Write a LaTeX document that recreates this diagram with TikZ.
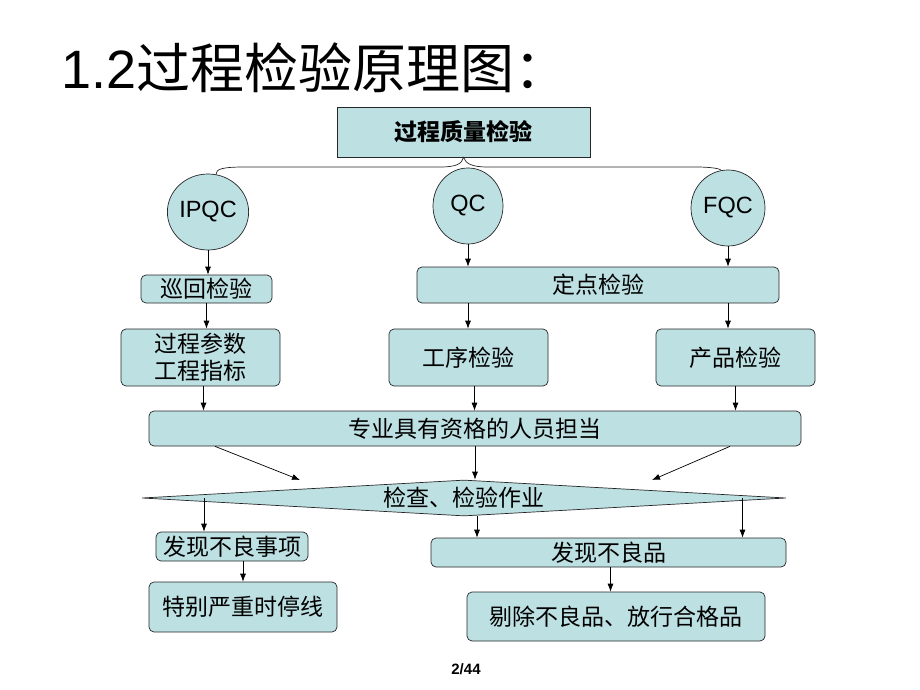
\documentclass[tikz,border=0pt]{standalone}
\usepackage{fontspec}
\setmainfont{Liberation Sans}
\newfontfamily\cjk{Noto Sans CJK SC}
\usepackage{xcolor}
\usetikzlibrary{shapes.geometric, positioning, arrows.meta}
\definecolor{boxblue}{RGB}{189,224,227}
\newcommand{\bx}{\cjk\fontsize{23}{27}\selectfont}

\begin{document}
\begin{tikzpicture}[x=1pt, y=-1pt, line width=0.7pt,
  box/.style={draw=black!85, fill=boxblue, rounded corners=5pt, inner sep=0pt, align=center, font=\bx},
  circ/.style={ellipse, draw=black!85, fill=boxblue, inner sep=0pt, font=\fontsize{23.5}{25}\selectfont},
  arr/.style={-{Latex[length=8pt,width=6pt]}}]
     \useasboundingbox (0,0) rectangle (920,690);
     \node[anchor=west] (title) at (58,68) {\fontsize{54}{60}\selectfont 1.2{\cjk 过程检验原理图：}};
     \node[box, rounded corners=0pt, minimum width=253, minimum height=50, font=\bx\bfseries] (top) at (463.5,132) {过程质量检验};
     % three kinds of inspection
     \node[circ, minimum width=74, minimum height=76] (ipqc) at (208,212) {IPQC};
     \node[circ, minimum width=70, minimum height=76] (qc) at (468,206) {QC};
     \node[circ, minimum width=74, minimum height=76] (fqc) at (728,208) {FQC};
     \draw[black!85] (ipqc.78) .. controls (216,169) and (222,167) .. (245,167) -- (440,167)
          .. controls (456,167) and (462,164) .. (top.south)
          .. controls (466,164) and (472,167) .. (488,167) -- (695,167)
          .. controls (714,167) and (720,169) .. (fqc.100);
     \node[box, minimum width=131, minimum height=28] (xun) at (206.5,289) {巡回检验};
     \node[box, minimum width=362, minimum height=36] (ding) at (598,285) {定点检验};
     \node[box, minimum width=159, minimum height=57] (par) at (200.5,357.5) {过程参数\\工程指标};
     \node[box, minimum width=159, minimum height=57] (gx) at (468.5,357.5) {工序检验};
     \node[box, minimum width=159, minimum height=57] (cp) at (735.5,357.5) {产品检验};
     \node[box, minimum width=652, minimum height=35] (staff) at (475,428.5) {专业具有资格的人员担当};
     \node[diamond, aspect=18, draw=black!85, fill=boxblue, inner sep=0pt, font=\bx,
           minimum width=644, minimum height=36] (chk) at (464,498) {检查、检验作业};
     \node[box, minimum width=152, minimum height=29] (sr) at (232,546.5) {发现不良事项};
     \node[box, minimum width=355, minimum height=29] (bl) at (608.5,552.5) {发现不良品};
     \node[box, minimum width=188, minimum height=50] (stop) at (243,607) {特别严重时停线};
     \node[box, minimum width=298, minimum height=49] (tc) at (616,616.5) {剔除不良品、放行合格品};
     \node[font=\bfseries\fontsize{15}{17}\selectfont] (pg) at (466,669) {2/44};
     % arrows
     \draw[arr] (ipqc.south) -- (ipqc.south |- xun.north);
     \draw[arr] (qc.south) -- (qc.south |- ding.north);
     \draw[arr] (fqc.south) -- (fqc.south |- ding.north);
     \draw[arr] (xun.south) -- (xun.south |- par.north);
     \draw[arr] (qc.south |- ding.south) -- (qc.south |- gx.north);
     \draw[arr] (fqc.south |- ding.south) -- (fqc.south |- cp.north);
     \draw[arr] ([xshift=3]par.south) -- ([xshift=3]par.south |- staff.north);
     \draw[arr] ([xshift=6]gx.south) -- ([xshift=6]gx.south |- staff.north);
     \draw[arr] (cp.south) -- (cp.south |- staff.north);
     \coordinate (d1) at (300,480);
     \coordinate (d3) at (652,480);
     \draw[arr] ([xshift=-260]staff.south) -- (d1);
     \draw[arr] (staff.south) -- (staff.south |- chk.north);
     \draw[arr] ([xshift=255]staff.south) -- (d3);
     \draw[arr] ([xshift=-28]sr.north |- chk.west) -- ([xshift=-28]sr.north);
     \draw[arr] ([xshift=13]chk.south) -- ([xshift=13]chk.south |- bl.north);
     \draw[arr] ([xshift=134]bl.north |- chk.east) -- ([xshift=134]bl.north);
     \draw[arr] ([xshift=11]sr.south) -- ([xshift=11]sr.south |- stop.north);
     \draw[arr] ([xshift=2]bl.south) -- ([xshift=2]bl.south |- tc.north);
   \end{tikzpicture}
\end{document}
